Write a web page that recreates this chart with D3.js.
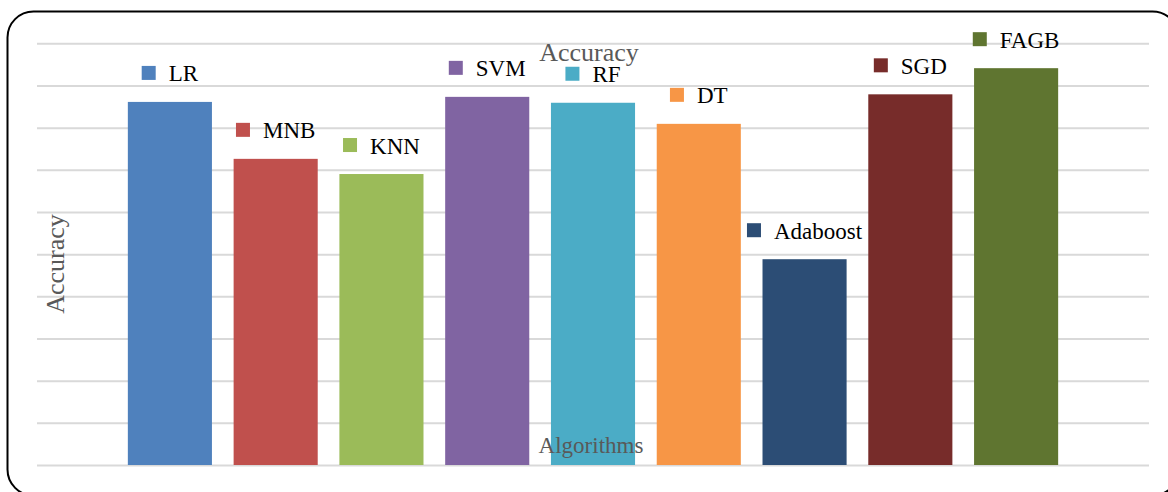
<!DOCTYPE html>
<html>
<head>
<meta charset="utf-8">
<script src="https://cdn.jsdelivr.net/npm/d3@7"></script>
<style>
  html, body { margin: 0; padding: 0; background: #fff; }
  svg { display: block; font-family: "Liberation Serif", "Times New Roman", serif; }
</style>
</head>
<body>
<svg id="chart" width="1168" height="492"></svg>
<script>
// Model names and their accuracy (%)
const algorithms = ["LR", "MNB", "KNN", "SVM", "RF", "DT", "Adaboost", "SGD", "FAGB"];
const accuracy = [86.1, 72.6, 69.0, 87.3, 85.9, 80.9, 48.8, 87.9, 94.1];
const barColors = ["#4f81bd", "#c0504d", "#9bbb59", "#8064a2", "#4bacc6", "#f79646", "#2c4d75", "#772c2a", "#5f7530"];
const yTicks = [0, 10, 20, 30, 40, 50, 60, 70, 80, 90, 100];

const svg = d3.select("#chart");

// Rounded chart frame
svg.append("rect")
  .attr("x", 7.5).attr("y", 11.5)
  .attr("width", 1171).attr("height", 484)
  .attr("rx", 26).attr("ry", 26)
  .attr("fill", "#fff")
  .attr("stroke", "#000")
  .attr("stroke-width", 2);

const gridLeft = 37, gridRight = 1149;

const x = d3.scaleBand()
  .domain(algorithms)
  .range([117, 1069])
  .paddingInner(0.205)
  .paddingOuter(0.1025);

const y = d3.scaleLinear()
  .domain([0, 100])
  .range([465, 43.3]);

// Horizontal gridlines
const grid = svg.append("g")
  .attr("transform", `translate(${gridRight},0)`)
  .call(d3.axisLeft(y).tickValues(yTicks).tickSize(gridRight - gridLeft).tickFormat(""));
grid.select(".domain").remove();
grid.selectAll(".tick line").attr("stroke", "#d9d9d9").attr("stroke-width", 2);

// Bars
svg.append("g").selectAll("rect")
  .data(algorithms)
  .join("rect")
  .attr("x", d => x(d))
  .attr("y", (d, i) => y(accuracy[i]))
  .attr("width", x.bandwidth())
  .attr("height", (d, i) => y(0) - y(accuracy[i]))
  .attr("fill", (d, i) => barColors[i]);

// Marker + name above each bar
const sq = 14, gap = 13;
const labels = svg.append("g").selectAll("g")
  .data(algorithms)
  .join("g");

labels.each(function (d, i) {
  const g = d3.select(this);
  const txt = g.append("text")
    .attr("font-size", 23)
    .attr("fill", "#000")
    .attr("dominant-baseline", "central")
    .text(d);
  const tw = txt.node().getComputedTextLength();
  const total = sq + gap + tw;
  const cx = x(d) + x.bandwidth() / 2;
  const cy = y(accuracy[i]) - 29;
  const left = cx - total / 2;
  g.insert("rect", "text")
    .attr("x", left).attr("y", cy - sq / 2)
    .attr("width", sq).attr("height", sq)
    .attr("fill", barColors[i]);
  txt.attr("x", left + sq + gap).attr("y", cy + 1);
});

// Chart title
svg.append("text")
  .attr("x", 589).attr("y", 61)
  .attr("text-anchor", "middle")
  .attr("font-size", 26)
  .attr("fill", "#595959")
  .text("Accuracy");

// X axis title
svg.append("text")
  .attr("x", 591).attr("y", 453)
  .attr("text-anchor", "middle")
  .attr("font-size", 23)
  .attr("fill", "#595959")
  .text("Algorithms");

// Y axis title
svg.append("text")
  .attr("transform", "translate(64,264) rotate(-90)")
  .attr("text-anchor", "middle")
  .attr("font-size", 26)
  .attr("fill", "#595959")
  .text("Accuracy");
</script>
</body>
</html>
